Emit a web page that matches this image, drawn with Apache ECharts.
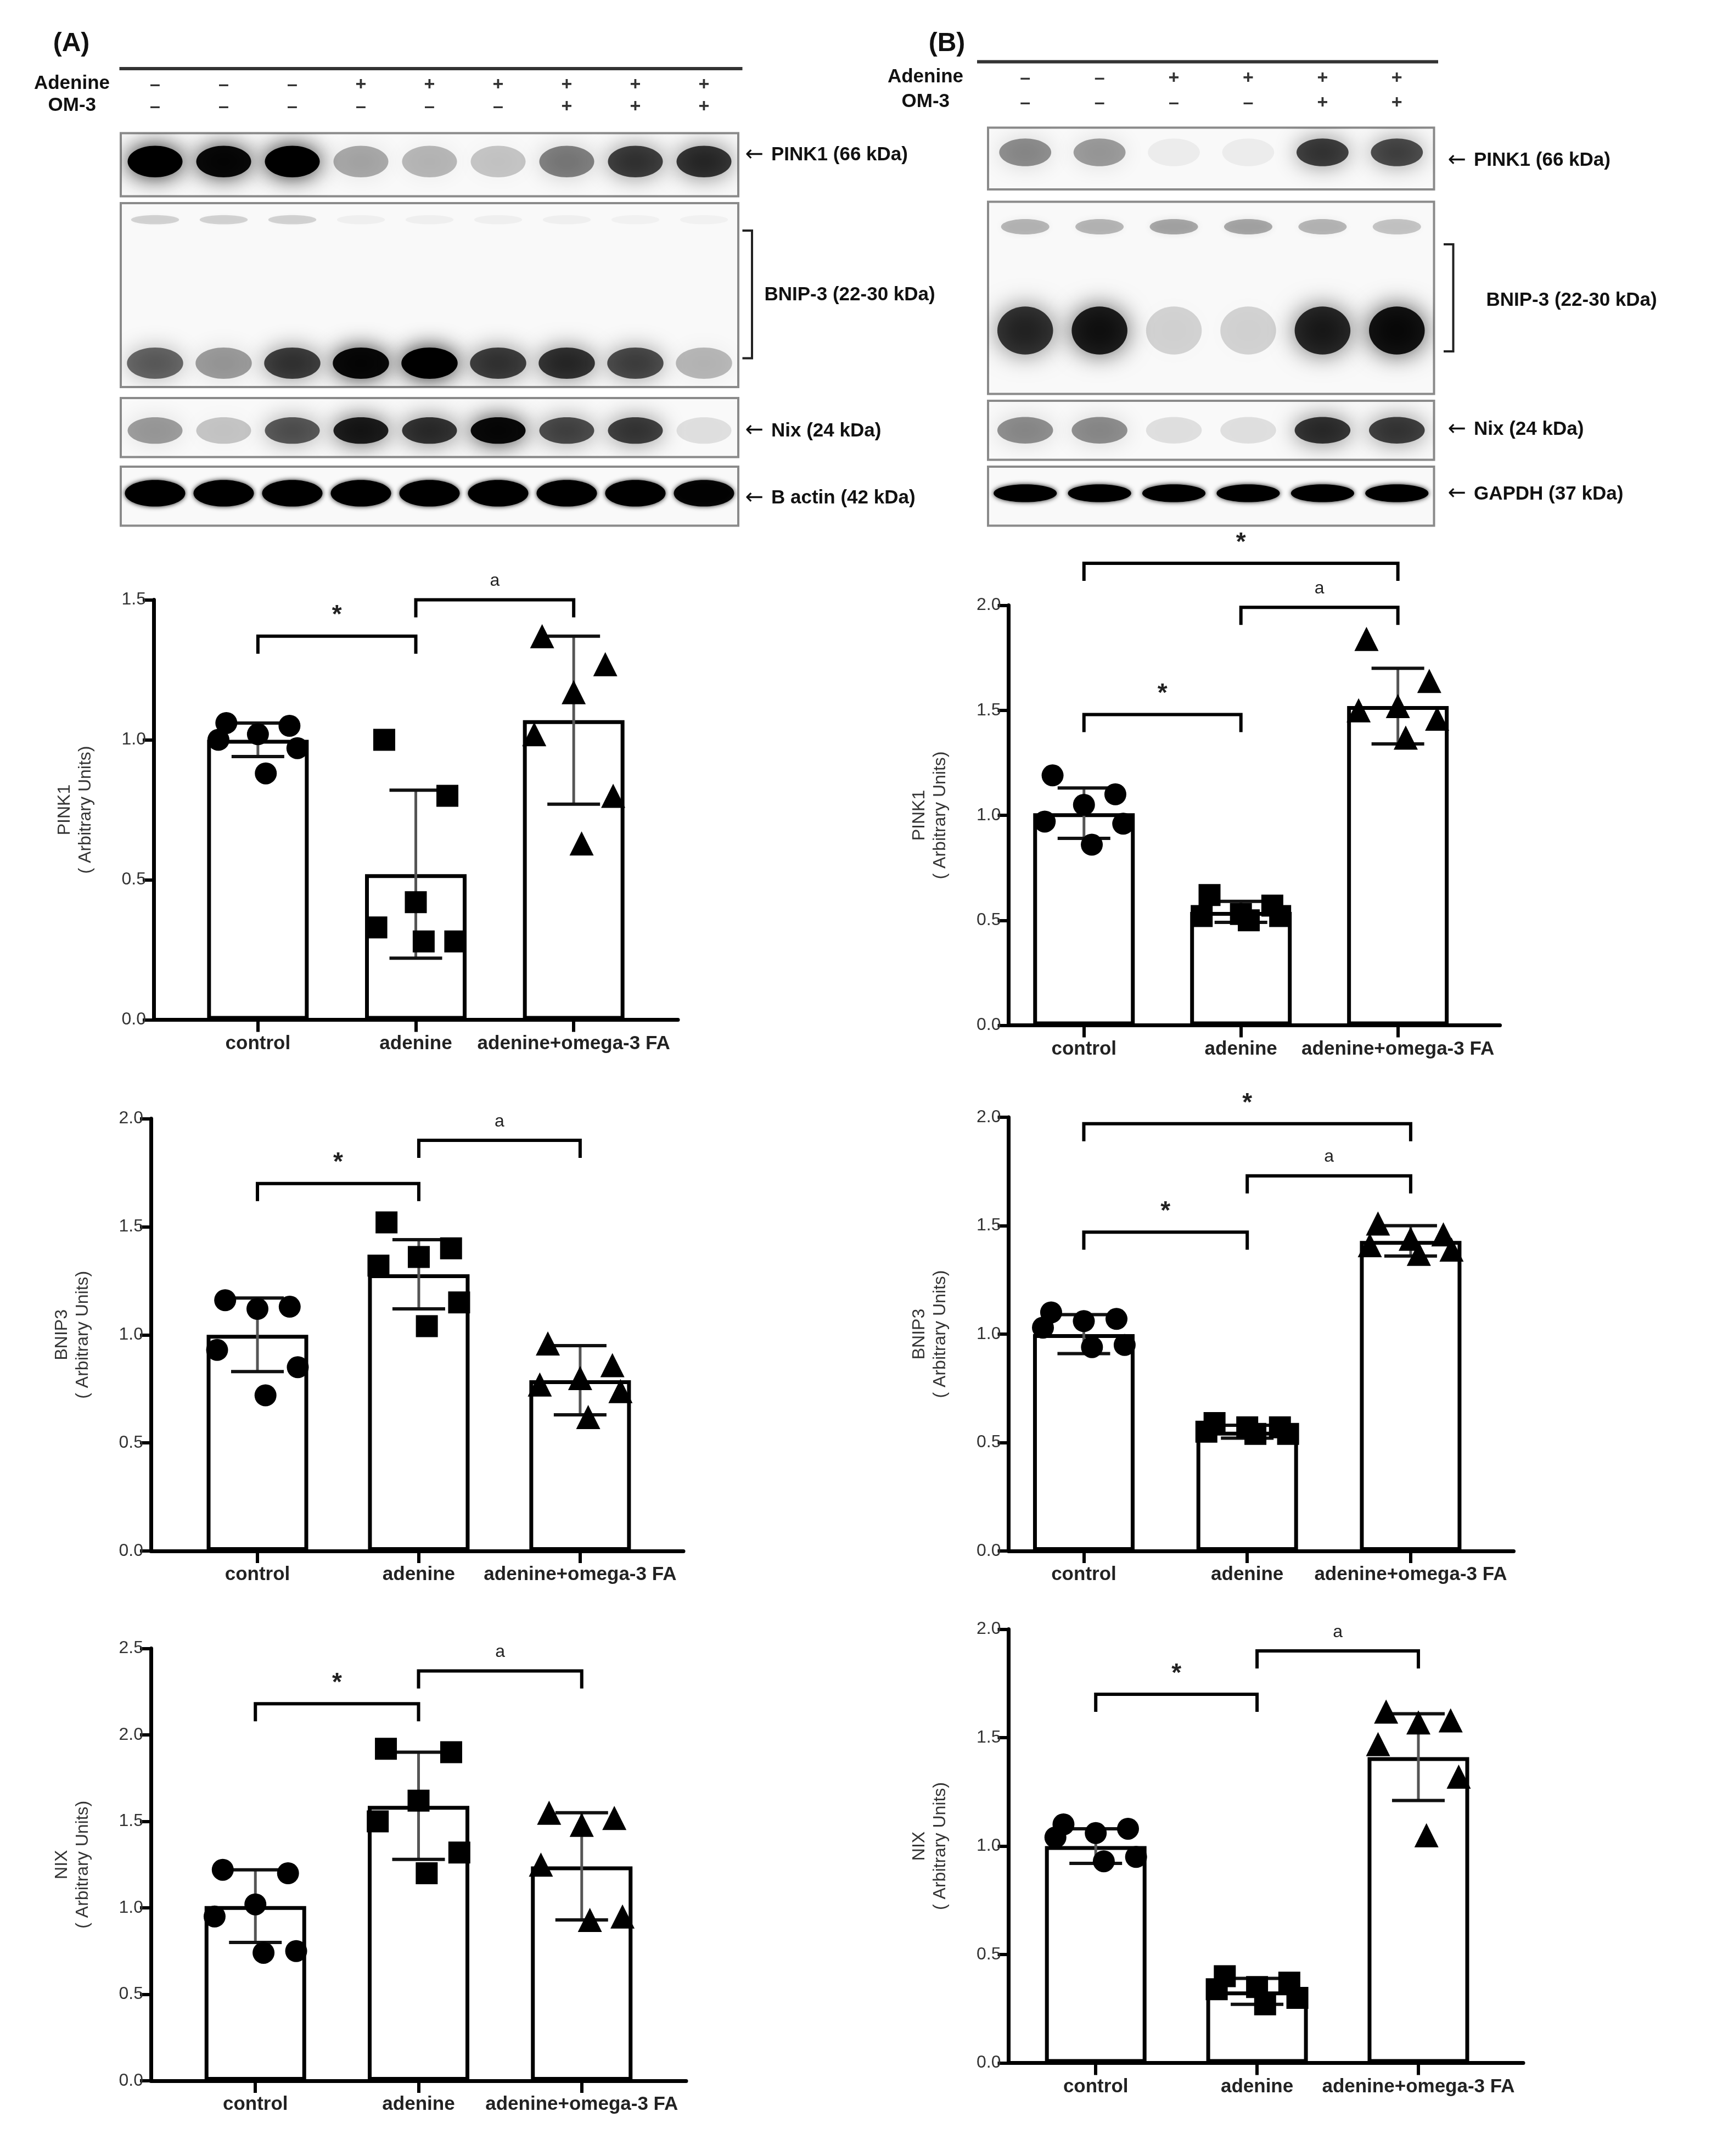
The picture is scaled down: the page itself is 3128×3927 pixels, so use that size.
<!DOCTYPE html>
<html><head><meta charset="utf-8">
<script src="https://cdn.jsdelivr.net/npm/echarts@6/dist/echarts.min.js"></script>
<style>html,body{margin:0;padding:0;background:#fff}#c{width:3128px;height:3927px}</style>
</head><body><div id="c"></div>
<script>
// ---------- DATA ----------
const categories = ['control', 'adenine', 'adenine+omega-3 FA'];
const laneAdenineA = ['-','-','-','+','+','+','+','+','+'];
const laneOM3A     = ['-','-','-','-','-','-','+','+','+'];
const laneAdenineB = ['-','-','+','+','+','+'];
const laneOM3B     = ['-','-','-','-','+','+'];
// blot band intensities (0-1)
const bandA_PINK1 = [1.0, 0.95, 1.0, 0.3, 0.25, 0.2, 0.45, 0.7, 0.75];
const bandA_BNIP3top = [0.15, 0.15, 0.15, 0.04, 0.04, 0.04, 0.04, 0.03, 0.03];
const bandA_BNIP3 = [0.55, 0.35, 0.7, 0.95, 1.0, 0.7, 0.75, 0.65, 0.25];
const bandA_Nix = [0.35, 0.2, 0.6, 0.85, 0.75, 0.95, 0.65, 0.7, 0.1];
const bandA_Actin = [1, 1, 1, 1, 1, 1, 1, 1, 0.95];
const bandB_PINK1 = [0.4, 0.35, 0.05, 0.05, 0.7, 0.65];
const bandB_BNIP3top = [0.25, 0.25, 0.3, 0.3, 0.25, 0.2];
const bandB_BNIP3 = [0.75, 0.85, 0.15, 0.15, 0.8, 0.9];
const bandB_Nix = [0.4, 0.4, 0.1, 0.1, 0.75, 0.7];
const bandB_GAPDH = [1, 1, 1, 1, 1, 1];
// bar charts: means, sd, points
const A1_mean = [1.00, 0.52, 1.07], A1_sd = [0.06, 0.30, 0.30];
const A1_pts = [[1.06,1.05,1.02,1.00,0.97,0.88],[1.00,0.80,0.42,0.33,0.28,0.28],[1.37,1.27,1.17,1.02,0.80,0.63]];
const A2_mean = [1.00, 1.28, 0.79], A2_sd = [0.17, 0.16, 0.16];
const A2_pts = [[1.16,1.13,1.12,0.93,0.85,0.72],[1.52,1.40,1.36,1.32,1.15,1.04],[0.96,0.86,0.80,0.77,0.74,0.62]];
const A3_mean = [1.01, 1.59, 1.24], A3_sd = [0.21, 0.31, 0.31];
const A3_pts = [[1.22,1.20,1.02,0.95,0.75,0.74],[1.92,1.90,1.62,1.50,1.32,1.20],[1.55,1.52,1.48,1.25,0.95,0.93]];
const B1_mean = [1.01, 0.54, 1.52], B1_sd = [0.12, 0.05, 0.18];
const B1_pts = [[1.19,1.10,1.05,0.97,0.96,0.86],[0.62,0.57,0.53,0.52,0.52,0.50],[1.84,1.64,1.52,1.50,1.46,1.37]];
const B2_mean = [1.00, 0.55, 1.43], B2_sd = [0.09, 0.03, 0.07];
const B2_pts = [[1.10,1.07,1.06,1.03,0.95,0.94],[0.59,0.57,0.57,0.55,0.54,0.54],[1.51,1.46,1.44,1.41,1.39,1.37]];
const B3_mean = [1.00, 0.33, 1.41], B3_sd = [0.08, 0.06, 0.20];
const B3_pts = [[1.10,1.08,1.06,1.04,0.95,0.93],[0.40,0.37,0.35,0.34,0.30,0.27],[1.62,1.58,1.57,1.47,1.32,1.05]];
// significance brackets: [from, to, height, label]
const A1_sig = [[0,1,1.37,'*'],[1,2,1.50,'a']];
const A2_sig = [[0,1,1.70,'*'],[1,2,1.90,'a']];
const A3_sig = [[0,1,2.18,'*'],[1,2,2.37,'a']];
const B1_sig = [[0,1,1.48,'*'],[1,2,1.99,'a'],[0,2,2.20,'*']];
const B2_sig = [[0,1,1.47,'*'],[1,2,1.73,'a'],[0,2,1.97,'*']];
const B3_sig = [[0,1,1.70,'*'],[1,2,1.90,'a']];

// ---------- LAYOUT ----------
const S = 2.5;
const FONT = '"Liberation Sans Narrow","Liberation Sans",Arial,sans-serif';
const chart = echarts.init(document.getElementById('c'), null, {renderer:'canvas'});
const grids = [], xAxes = [], yAxes = [], series = [], graphics = [];

function txt(x, y, t, o) {
  graphics.push({type:'text', x:x*S, y:y*S, style:Object.assign({text:t, font:'bold 35px '+FONT, fill:'#111', textVerticalAlign:'middle'}, o||{})});
}
function arrowLabel(x, y, t) {
  txt(x, y, '←', {font:'40px "DejaVu Sans",sans-serif'});
  txt(x + 19, y, t);
}

function blot(x0, x1, y0, y1, bands) {
  const gi = grids.length;
  const n = bands[0].vals.length;
  grids.push({left:x0*S, top:y0*S, width:(x1-x0)*S, height:(y1-y0)*S, show:true, borderColor:'#8a8a8a', borderWidth:4, backgroundColor:'#f9f9f9'});
  xAxes.push({gridIndex:gi, type:'category', data:Array.from({length:n},(_, i)=>i), show:false});
  yAxes.push({gridIndex:gi, type:'value', min:0, max:1, inverse:true, show:false});
  bands.forEach(b => {
    series.push({type:'custom', xAxisIndex:gi, yAxisIndex:gi, clip:true, silent:true,
      data:b.vals.map((v,i)=>[i,v]),
      renderItem:(p, api) => {
        const c = api.coord([api.value(0), b.yc]);
        const w = api.size([1,0])[0] * b.w;
        const h = api.size([0,b.h])[1];
        const a = api.value(1);
        return {type:'ellipse', shape:{cx:c[0], cy:c[1], rx:w/2, ry:h/2},
          style:{fill:'rgba(0,0,0,'+a+')', shadowBlur:b.blur, shadowColor:'rgba(0,0,0,'+(a*0.9)+')'}};
      }});
  });
}

function lanes(x0, x1, y, arr) {
  const n = arr.length, w = (x1-x0)/n;
  arr.forEach((s,i) => txt(x0 + w*(i+0.5), y, s === '-' ? '–' : s, {textAlign:'center', font:'bold 34px '+FONT, fill:'#333'}));
}

const JIT = [-0.2, 0.2, 0.0, -0.25, 0.25, 0.05];
const SYM = ['circle', 'rect', 'triangle'];

function barChart(cfg) {
  const gi = grids.length;
  grids.push({left:cfg.ax*S, top:cfg.top*S, width:(cfg.right-cfg.ax)*S, height:(cfg.zero-cfg.top)*S});
  xAxes.push({gridIndex:gi, type:'value', min:cfg.xmin, max:cfg.xmax,
    axisLine:{show:true, onZero:false, lineStyle:{color:'#000', width:7}},
    axisTick:{show:true, customValues:[0,1,2], length:22, lineStyle:{color:'#000', width:6}},
    axisLabel:{show:true, customValues:[0,1,2], formatter:v=>categories[Math.round(v)], fontFamily:FONT, fontWeight:'bold', fontSize:35, color:'#222', margin:26},
    splitLine:{show:false}});
  yAxes.push({gridIndex:gi, type:'value', min:0, max:cfg.ymax, interval:cfg.interval,
    name:cfg.name+'\n( Arbitrary Units)', nameLocation:'middle', nameGap:105, nameRotate:90,
    nameTextStyle:{fontFamily:'"Liberation Sans",Arial,sans-serif', fontSize:32, color:'#333', lineHeight:38},
    axisLine:{show:true, onZero:false, lineStyle:{color:'#000', width:7}},
    axisTick:{show:true, length:20, lineStyle:{color:'#000', width:6}},
    axisLabel:{formatter:v=>v.toFixed(1), fontFamily:FONT, fontSize:32, color:'#333', margin:14},
    splitLine:{show:false}});
  series.push({type:'bar', xAxisIndex:gi, yAxisIndex:gi, barWidth:185,
    data:cfg.mean.map((m,i)=>[i,m]), itemStyle:{color:'#fff', borderColor:'#000', borderWidth:7}, silent:true, z:2});
  series.push({type:'custom', xAxisIndex:gi, yAxisIndex:gi, z:3, silent:true,
    data:cfg.mean.map((m,i)=>[i,m,cfg.sd[i]]),
    renderItem:(p, api) => {
      const i = api.value(0), m = api.value(1), sd = api.value(2);
      const t = api.coord([i, m+sd]), b = api.coord([i, m-sd]);
      return {type:'group', children:[
        {type:'line', shape:{x1:t[0], y1:t[1], x2:b[0], y2:b[1]}, style:{stroke:'#555', lineWidth:5}},
        {type:'line', shape:{x1:t[0]-48, y1:t[1], x2:t[0]+48, y2:t[1]}, style:{stroke:'#111', lineWidth:6}},
        {type:'line', shape:{x1:b[0]-48, y1:b[1], x2:b[0]+48, y2:b[1]}, style:{stroke:'#111', lineWidth:6}}]};
    }});
  cfg.pts.forEach((arr, i) => {
    series.push({type:'scatter', xAxisIndex:gi, yAxisIndex:gi, z:4, silent:true,
      symbol:SYM[i], symbolSize:SYM[i]==='triangle'?44:40,
      itemStyle:{color:'#000', opacity:1},
      data:arr.map((v,k)=>[i + JIT[k], v])});
  });
  series.push({type:'custom', xAxisIndex:gi, yAxisIndex:gi, clip:false, z:5, silent:true,
    data:cfg.sig.map(s=>[s[0], s[1], s[2]]),
    renderItem:(p, api) => {
      const a = api.coord([api.value(0), api.value(2)]), b = api.coord([api.value(1), api.value(2)]);
      const lab = cfg.sig[p.dataIndex][3];
      return {type:'group', children:[
        {type:'polyline', shape:{points:[[a[0],a[1]+32],[a[0],a[1]],[b[0],b[1]],[b[0],b[1]+32]]}, style:{stroke:'#000', lineWidth:6, fill:null}},
        {type:'text', style:{text:lab, x:(a[0]+b[0])/2, y:a[1]-(lab==='*'?14:18), textAlign:'center', textVerticalAlign:'bottom',
          font:(lab==='*'?'bold 46px ':'32px ')+FONT, fill:'#222'}}]};
    }});
}

// ---------- PANEL A ----------
txt(52, 32, '(A)', {textAlign:'center', font:'bold 48px '+FONT});
graphics.push({type:'line', shape:{x1:87*S, y1:50*S, x2:541*S, y2:50*S}, style:{stroke:'#333', lineWidth:6}});
txt(80, 61, 'Adenine', {textAlign:'right'});
txt(70, 77, 'OM-3', {textAlign:'right'});
lanes(88, 538, 62, laneAdenineA);
lanes(88, 538, 78, laneOM3A);
blot(88, 538, 97, 143, [{vals:bandA_PINK1, yc:0.45, h:0.5, w:0.8, blur:40}]);
blot(88, 538, 148, 282, [{vals:bandA_BNIP3top, yc:0.09, h:0.05, w:0.7, blur:10},{vals:bandA_BNIP3, yc:0.87, h:0.17, w:0.82, blur:40}]);
blot(88, 538, 290, 333, [{vals:bandA_Nix, yc:0.55, h:0.45, w:0.8, blur:40}]);
blot(88, 538, 340, 383, [{vals:bandA_Actin, yc:0.45, h:0.45, w:0.88, blur:8}]);
arrowLabel(543, 113, 'PINK1 (66 kDa)');
graphics.push({type:'polyline', shape:{points:[[541*S,168*S],[548*S,168*S],[548*S,261*S],[541*S,261*S]]}, style:{stroke:'#222', lineWidth:4, fill:null}});
txt(557, 215, 'BNIP-3 (22-30 kDa)');
arrowLabel(543, 314, 'Nix (24 kDa)');
arrowLabel(543, 363, 'B actin (42 kDa)');

// ---------- PANEL B ----------
txt(690, 32, '(B)', {textAlign:'center', font:'bold 48px '+FONT});
graphics.push({type:'line', shape:{x1:712*S, y1:45*S, x2:1048*S, y2:45*S}, style:{stroke:'#333', lineWidth:6}});
txt(702, 56, 'Adenine', {textAlign:'right'});
txt(692, 74, 'OM-3', {textAlign:'right'});
lanes(720, 1045, 57, laneAdenineB);
lanes(720, 1045, 75, laneOM3B);
blot(720, 1045, 93, 138, [{vals:bandB_PINK1, yc:0.4, h:0.45, w:0.7, blur:40}]);
blot(720, 1045, 147, 287, [{vals:bandB_BNIP3top, yc:0.13, h:0.08, w:0.65, blur:14},{vals:bandB_BNIP3, yc:0.67, h:0.25, w:0.75, blur:45}]);
blot(720, 1045, 292, 335, [{vals:bandB_Nix, yc:0.5, h:0.45, w:0.75, blur:40}]);
blot(720, 1045, 340, 383, [{vals:bandB_GAPDH, yc:0.45, h:0.3, w:0.85, blur:8}]);
arrowLabel(1055, 117, 'PINK1 (66 kDa)');
graphics.push({type:'polyline', shape:{points:[[1052*S,178*S],[1059*S,178*S],[1059*S,256*S],[1052*S,256*S]]}, style:{stroke:'#222', lineWidth:4, fill:null}});
txt(1083, 219, 'BNIP-3 (22-30 kDa)');
arrowLabel(1055, 313, 'Nix (24 kDa)');
arrowLabel(1055, 360, 'GAPDH (37 kDa)');

// ---------- BAR CHARTS ----------
barChart({ax:112, right:494, top:437, zero:743, ymax:1.5, interval:0.5, xmin:-0.66, xmax:2.66, name:'PINK1', mean:A1_mean, sd:A1_sd, pts:A1_pts, sig:A1_sig});
barChart({ax:110, right:498, top:815, zero:1130, ymax:2.0, interval:0.5, xmin:-0.66, xmax:2.64, name:'BNIP3', mean:A2_mean, sd:A2_sd, pts:A2_pts, sig:A2_sig});
barChart({ax:110, right:500, top:1201, zero:1516, ymax:2.5, interval:0.5, xmin:-0.64, xmax:2.64, name:'NIX', mean:A3_mean, sd:A3_sd, pts:A3_pts, sig:A3_sig});
barChart({ax:735, right:1093, top:441, zero:747, ymax:2.0, interval:0.5, xmin:-0.48, xmax:2.65, name:'PINK1', mean:B1_mean, sd:B1_sd, pts:B1_pts, sig:B1_sig});
barChart({ax:735, right:1103, top:814, zero:1130, ymax:2.0, interval:0.5, xmin:-0.46, xmax:2.63, name:'BNIP3', mean:B2_mean, sd:B2_sd, pts:B2_pts, sig:B2_sig});
barChart({ax:735, right:1110, top:1187, zero:1503, ymax:2.0, interval:0.5, xmin:-0.54, xmax:2.65, name:'NIX', mean:B3_mean, sd:B3_sd, pts:B3_pts, sig:B3_sig});

chart.setOption({animation:false, backgroundColor:'#fff', grid:grids, xAxis:xAxes, yAxis:yAxes, series:series, graphic:graphics});
</script></body></html>
